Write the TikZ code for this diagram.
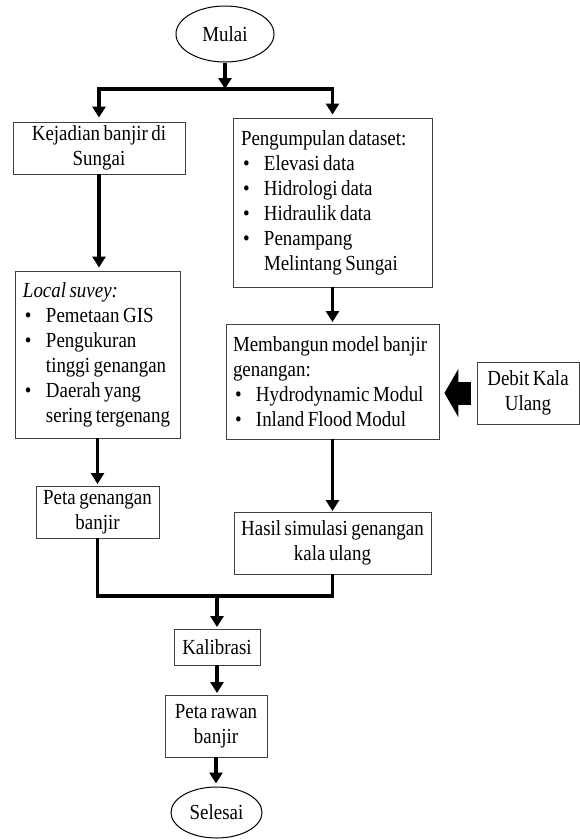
\documentclass[tikz,border=0pt]{standalone}
\usepackage{fontspec}
\setmainfont{Liberation Serif}[FakeStretch=0.88, WordSpace=0.75]
\usetikzlibrary{arrows.meta,shapes.geometric}
\newcommand{\bul}{\makebox[23pt][l]{\hspace{2pt}\textbullet}}
\newcommand{\ind}{\hspace{23pt}}
\begin{document}
\begin{tikzpicture}[x=1pt,y=-1pt,
  txt/.style={font=\fontsize{21.5}{25}\selectfont, text=black},
  boxc/.style={txt, draw=black!75, line width=0.9pt, inner sep=0pt, align=center},
  boxl/.style={txt, draw=black!75, line width=0.9pt, inner xsep=8pt, inner ysep=0pt, align=flush left},
  oval/.style={txt, draw=black, line width=1pt, ellipse, inner sep=0pt},
  conn/.style={line width=3.6pt},
  arr/.style={conn, -{Triangle[width=13pt,length=11pt]}, shorten >=1.5pt},
  ]
\useasboundingbox (0,0) rectangle (580,839);

\node[oval, minimum width=98pt, minimum height=56pt] (mulai) at (225,34) {Mulai};
\node[boxc, minimum width=172pt, minimum height=52pt] (kej) at (99,148) {Kejadian banjir di\\Sungai};
\node[boxl, minimum height=169pt, text width=183pt] (peng) at (332.5,202.5)
  {\mbox{Pengumpulan dataset:}\\
   \mbox{\bul Elevasi data}\\
   \mbox{\bul Hidrologi data}\\
   \mbox{\bul Hidraulik data}\\
   \mbox{\bul Penampang}\\
   \mbox{\ind Melintang Sungai}};
\node[boxl, minimum height=167pt, text width=149pt] (loc) at (97.5,354.5)
  {\mbox{\textit{Local suvey:}}\\
   \mbox{\bul Pemetaan GIS}\\
   \mbox{\bul Pengukuran}\\
   \mbox{\ind tinggi genangan}\\
   \mbox{\bul Daerah yang}\\
   \mbox{\ind sering tergenang}};
\node[boxl, inner xsep=7pt, minimum height=115pt, text width=199pt] (memb) at (332.5,381.5)
  {\mbox{Membangun model banjir}\\
   \mbox{genangan:}\\
   \mbox{\bul Hydrodynamic Modul}\\
   \mbox{\bul Inland Flood Modul}};
\node[boxc, minimum width=102pt, minimum height=62pt] (debit) at (528,393) {Debit Kala\\Ulang};
\node[boxc, minimum width=123pt, minimum height=52pt] (petag) at (97.5,512) {Peta genangan\\banjir};
\node[boxc, minimum width=197pt, minimum height=62pt] (hasil) at (332.5,543) {Hasil simulasi genangan\\kala ulang};
\node[boxc, minimum width=86pt, minimum height=36pt] (kal) at (217,647) {Kalibrasi};
\node[boxc, minimum width=102pt, minimum height=62pt] (petar) at (216,726) {Peta rawan\\banjir};
\node[oval, minimum width=91pt, minimum height=51pt] (selesai) at (216.5,812.5) {Selesai};

% split from Mulai
\coordinate (fk) at (225,89);
\draw[arr, shorten >=0pt] (mulai.south) -- (mulai.south |- fk);
\draw[conn, {Triangle[width=13pt,length=11pt]}-{Triangle[width=13pt,length=11pt]}, shorten <=4pt, shorten >=3pt]
  (kej.north) -- (kej.north |- fk) -- (peng.north |- fk) -- (peng.north);

% left column
\draw[arr, shorten >=3pt] (kej.south) -- (kej.south |- loc.north);
\draw[arr] (loc.south) -- (petag.north);

% right column
\draw[arr] (peng.south) -- (memb.north);
\draw[arr, shorten >=0.5pt] (memb.south) -- (hasil.north);
\draw[line width=23pt, -{Triangle[width=48pt,length=14pt]}, shorten <=6pt, shorten >=5pt]
  (debit.west) -- (debit.west -| memb.east);

% merge
\coordinate (mg) at (217,596);
\draw[conn] (petag.south) -- (petag.south |- mg) -- (hasil.south |- mg) -- (hasil.south);
\draw[arr] (kal.north |- mg) -- (kal.north);
\draw[arr] (kal.south) -- (kal.south |- petar.north);
\draw[arr, shorten >=3pt] (petar.south) -- (petar.south |- selesai.north);
\end{tikzpicture}
\end{document}
